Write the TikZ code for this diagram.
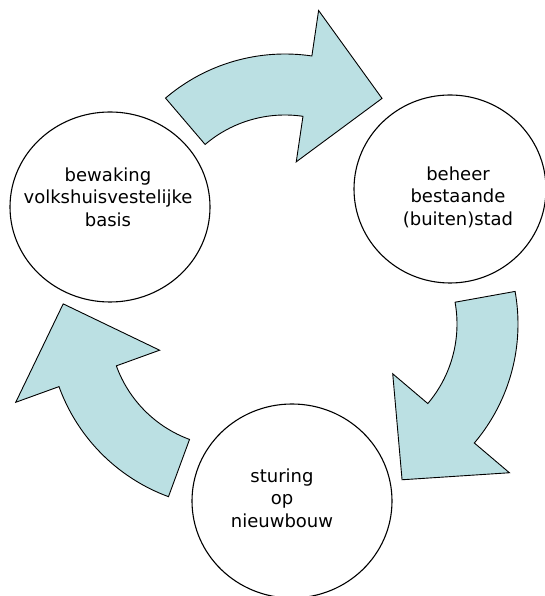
\documentclass[tikz,border=0pt]{standalone}
\usepackage{fontspec}
\setmainfont{DejaVu Sans}
\usetikzlibrary{calc,shapes.geometric}
\definecolor{CycleBlue}{RGB}{187,224,227}

% curved block arrow: centre, tail angle, head base angle, tip angle
\newcommand{\cyclearrow}[4]{%
  \draw[cyclearrow] ($(#1)+(#2:184pt)$) arc[start angle=#2, end angle=#3, radius=184pt]
    -- ($(#1)+(#3:230pt)$) -- ($(#1)+(#4:170pt)$) -- ($(#1)+(#3:77pt)$)
    -- ($(#1)+(#3:123pt)$) arc[start angle=#3, end angle=#2, radius=123pt] -- cycle;}

\begin{document}
\begin{tikzpicture}[x=1pt, y=1pt,
  every node/.style={font=\fontsize{18}{22.5}\selectfont, align=center},
  stage/.style={draw, ellipse, fill=white, line width=1.1pt, inner sep=0pt},
  cyclearrow/.style={draw, fill=CycleBlue, line width=0.9pt, line join=miter}]
\useasboundingbox (0,0) rectangle (545,596);

\cyclearrow{285,358}{130.5}{81.6}{55.2}
\cyclearrow{334,272}{10.2}{-40.3}{-66.4}
\cyclearrow{232,272}{249.8}{199.9}{173.2}

\node[stage, minimum width=200pt, minimum height=190pt] (basiscirc) at (110,389) {};
\node[stage, minimum width=192pt, minimum height=188pt] (beheercirc) at (450,407) {};
\node[stage, minimum width=200pt, minimum height=194pt] (sturingcirc) at (292,95) {};

\node (basis) at (108,399) {bewaking\\volkshuisvestelijke\\basis};
\node (beheer) at (458,399) {beheer\\bestaande\\(buiten)stad};
\node (sturing) at (282,98) {sturing\\op\\nieuwbouw};
\end{tikzpicture}
\end{document}
